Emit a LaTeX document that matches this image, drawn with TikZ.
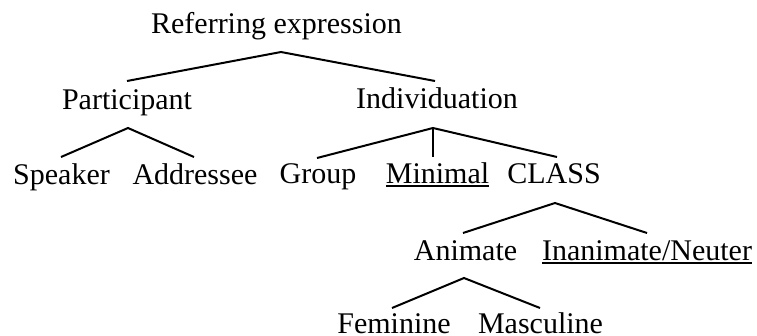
\documentclass[tikz,border=0pt]{standalone}
\usepackage{fontspec}
\setmainfont{Liberation Serif}
\usetikzlibrary{calc}
\begin{document}
\begin{tikzpicture}[x=1pt,y=1pt,
  lbl/.style={inner sep=0pt, outer sep=0pt, anchor=base, font=\fontsize{30}{36}\selectfont},
  edge/.style={line width=2pt},
  uline/.style={line width=1.4pt}]
\useasboundingbox (0,0) rectangle (757,-335);
\node[lbl] (root) at (276.5,-33) {Referring expression};
\node[lbl] (part) at (127,-109) {Participant};
\node[lbl] (indiv) at (437,-108) {Individuation};
\node[lbl] (spk) at (61.5,-184) {Speaker};
\node[lbl] (addr) at (195,-184) {Addressee};
\node[lbl] (grp) at (318,-183) {Group};
\node[lbl] (min) at (437.5,-183) {Minimal};
\node[lbl] (cls) at (554,-183) {CLASS};
\node[lbl] (anim) at (465.5,-260) {Animate};
\node[lbl] (inan) at (647,-260) {Inanimate/Neuter~};
\node[lbl] (fem) at (394,-333) {Feminine};
\node[lbl] (masc) at (540.5,-333) {Masculine};
% underlines
\draw[uline] ($(min.base west)+(0,-3)$) -- ($(min.base east)+(0,-3)$);
\draw[uline] ($(inan.base west)+(0,-3)$) -- ($(inan.base east)+(0,-3)$);
% connectors
\draw[edge] ($(part.base)+(0,28)$) -- ($(root.base)+(4.5,-19)$) -- ($(indiv.base)+(-2,27)$);
\draw[edge] ($(spk.base)+(-0.5,27)$) -- ($(part.base)+(1,-19)$) -- ($(addr.base)+(-1,27)$);
\draw[edge] ($(grp.base)+(-1,25)$) -- ($(indiv.base)+(-4,-20)$) -- ($(cls.base)+(3,26)$);
\draw[edge] ($(indiv.base)+(-4,-20)$) -- ($(min.base)+(-4.5,26)$);
\draw[edge] ($(anim.base)+(-2.5,27)$) -- ($(cls.base)+(1,-20)$) -- ($(inan.base)+(0,27)$);
\draw[edge] ($(fem.base)+(-2,25)$) -- ($(anim.base)+(-1.5,-18)$) -- ($(masc.base)+(-0.5,25)$);
\end{tikzpicture}
\end{document}
